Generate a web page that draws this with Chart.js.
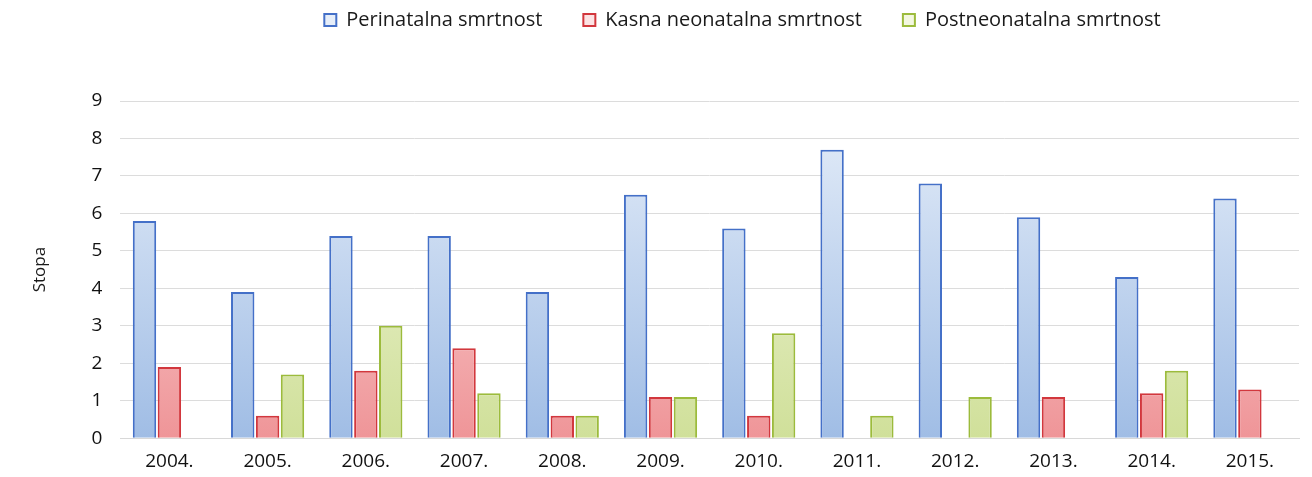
<!DOCTYPE html>
<html>
<head>
<meta charset="utf-8">
<script src="https://cdn.jsdelivr.net/npm/chart.js@4.4.1/dist/chart.umd.min.js"></script>
<style>
  html, body { margin: 0; padding: 0; background: #ffffff; }
  #wrap { width: 1312px; height: 477px; position: relative; }
</style>
</head>
<body>
<div id="wrap"><canvas id="mortChart"></canvas></div>
<script>
// godine
const years = ['2004.', '2005.', '2006.', '2007.', '2008.', '2009.', '2010.', '2011.', '2012.', '2013.', '2014.', '2015.'];
const perinatal = [5.8, 3.9, 5.4, 5.4, 3.9, 6.5, 5.6, 7.7, 6.8, 5.9, 4.3, 6.4];
const lateNeonatal = [1.9, 0.6, 1.8, 2.4, 0.6, 1.1, 0.6, 0, 0, 1.1, 1.2, 1.3];
const postNeonatal = [0, 1.7, 3.0, 1.2, 0.6, 1.1, 2.8, 0.6, 1.1, 0, 1.8, 0];
const yTicks = [0, 1, 2, 3, 4, 5, 6, 7, 8, 9];

const fontFam = "'Open Sans', 'Noto Sans', sans-serif";

// vertical gradient, light on top and darker at the bottom
function grad(top, bottom) {
    return function (context) {
        const chart = context.chart;
        const area = chart.chartArea;
        if (!area) return bottom;
        const g = chart.ctx.createLinearGradient(0, area.top, 0, area.bottom);
        g.addColorStop(0, top);
        g.addColorStop(1, bottom);
        return g;
    };
}

// extra room under the legend, and legend moved a bit to the right
const legendGap = {
    id: 'legendGap',
    beforeInit(chart) {
        const origFit = chart.legend.fit;
        chart.legend.fit = function () {
            origFit.bind(chart.legend)();
            this.height += 61;
        };
    },
    afterLayout(chart) {
        chart.legend.left += 80;
        chart.legend.right += 80;
    }
};

const ctx = document.getElementById('mortChart');
new Chart(ctx, {
    type: 'bar',
    data: {
        labels: years,
        datasets: [{
            label: 'Perinatalna smrtnost',
            data: perinatal,
            backgroundColor: grad('#e6eef9', '#a0bde5'),
            borderColor: '#4470c8',
            borderWidth: 2,
            borderSkipped: 'bottom'
        }, {
            label: 'Kasna neonatalna smrtnost',
            data: lateNeonatal,
            backgroundColor: grad('#fce3e4', '#ef9598'),
            borderColor: '#d2373d',
            borderWidth: 2,
            borderSkipped: 'bottom'
        }, {
            label: 'Postneonatalna smrtnost',
            data: postNeonatal,
            backgroundColor: grad('#f3f7e0', '#d0e09a'),
            borderColor: '#9cbb3c',
            borderWidth: 2,
            borderSkipped: 'bottom'
        }]
    },
    plugins: [legendGap],
    options: {
        responsive: true,
        maintainAspectRatio: false,
        animation: false,
        layout: { padding: { top: -31, right: 13, left: 26, bottom: 0 } },
        datasets: {
            bar: { categoryPercentage: 0.76, barPercentage: 0.94 }
        },
        plugins: {
            tooltip: { enabled: false },
            legend: {
                position: 'top',
                labels: {
                    color: '#1a1a1a',
                    font: { family: fontFam, size: 20 },
                    boxWidth: 12,
                    boxHeight: 12,
                    padding: 41
                }
            }
        },
        scales: {
            y: {
                min: 0,
                max: 9,
                afterBuildTicks: function (axis) {
                    axis.ticks = yTicks.map(v => ({ value: v }));
                },
                title: {
                    display: true,
                    text: 'Stopa',
                    color: '#1a1a1a',
                    font: { family: fontFam, size: 17 },
                    padding: { bottom: 23 }
                },
                grid: {
                    color: '#dcdcdc',
                    drawTicks: false
                },
                border: { display: false },
                ticks: {
                    color: '#111111',
                    font: { family: fontFam, size: 19 },
                    padding: 18
                }
            },
            x: {
                grid: { display: false },
                border: { color: '#d8d8d8' },
                ticks: {
                    color: '#111111',
                    font: { family: fontFam, size: 19 },
                    padding: 4
                }
            }
        }
    }
});
</script>
</body>
</html>
